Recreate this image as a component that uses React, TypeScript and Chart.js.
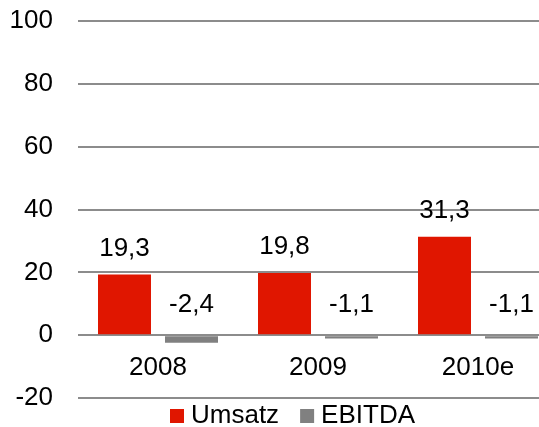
import React, { useEffect, useRef } from "react";
import { Chart, registerables } from "chart.js";

Chart.register(...registerables);

const categories = ["2008", "2009", "2010e"];
const umsatz = [19.3, 19.8, 31.3];
const ebitda = [-2.4, -1.1, -1.1];
const seriesNames = ["Umsatz", "EBITDA"];
const colors = ["#e01600", "#808080"];
const yTicks = { min: -20, max: 100, step: 20 };

const FONT = "'Liberation Sans', Arial, sans-serif";
const fmt = (v: number) => v.toFixed(1).replace(".", ",");

const labelPlugin = {
  id: "valueLabels",
  afterDatasetsDraw(chart: any) {
    const ctx = chart.ctx;
    const yScale = chart.scales.y;
    ctx.save();
    ctx.font = `26px ${FONT}`;
    ctx.fillStyle = "#000";
    ctx.textAlign = "center";
    ctx.textBaseline = "middle";
    chart.data.datasets.forEach((ds: any, di: number) => {
      const meta = chart.getDatasetMeta(di);
      meta.data.forEach((el: any, i: number) => {
        const v = ds.data[i];
        let y;
        if (v >= 0) y = el.y - 26;
        else y = yScale.getPixelForValue(0) - 30;
        ctx.fillText(fmt(v), el.x, y);
      });
    });
    ctx.restore();
  },
};

const legendPlugin = {
  id: "customLegend",
  afterDraw(chart: any) {
    const ctx = chart.ctx;
    ctx.save();
    ctx.font = `26px ${FONT}`;
    ctx.textBaseline = "middle";
    ctx.textAlign = "left";
    let x = 170;
    const yc = 416;
    const box = 14;
    chart.data.datasets.forEach((ds: any) => {
      ctx.fillStyle = ds.backgroundColor;
      ctx.fillRect(x, yc - box / 2, box, box);
      x += box + 7;
      ctx.fillStyle = "#000";
      ctx.fillText(ds.label, x, yc);
      x += ctx.measureText(ds.label).width + 21;
    });
    ctx.restore();
  },
};

export default function App() {
  const ref = useRef<HTMLCanvasElement>(null);
  useEffect(() => {
    document.body.style.margin = "0";
    const chart = new Chart(ref.current as HTMLCanvasElement, {
      type: "bar",
      data: {
        labels: categories,
        datasets: [
          { label: seriesNames[0], data: umsatz, backgroundColor: colors[0] },
          { label: seriesNames[1], data: ebitda, backgroundColor: colors[1] },
        ],
      },
      options: {
        responsive: false,
        animation: false,
        layout: { padding: { left: 0, right: 0, top: 21, bottom: 29 } },
        datasets: {
          bar: { categoryPercentage: 0.8375, barPercentage: 0.791 },
        },
        plugins: {
          legend: { display: false },
          tooltip: { enabled: false },
        },
        scales: {
          x: {
            position: { y: 0 } as any,
            grid: { display: false, drawTicks: false },
            border: { display: false },
            ticks: { padding: 17, color: "#000", font: { family: FONT, size: 26 } },
          },
          y: {
            min: yTicks.min,
            max: yTicks.max,
            ticks: {
              stepSize: yTicks.step,
              padding: 0,
              color: "#000",
              font: { family: FONT, size: 26 },
            },
            grid: {
              color: "#8c8c8c",
              lineWidth: 2,
              drawTicks: true,
              tickLength: 25,
              tickColor: "rgba(0,0,0,0)",
            },
            border: { display: false },
            afterFit: (scale: any) => {
              scale.width = 78;
            },
          },
        },
      },
      plugins: [labelPlugin, legendPlugin],
    });
    return () => chart.destroy();
  }, []);
  return (
    <div style={{ width: 539, height: 427, overflow: "hidden", position: "relative", background: "#fff" }}>
      <canvas ref={ref} width={558} height={427} style={{ display: "block" }} />
    </div>
  );
}
